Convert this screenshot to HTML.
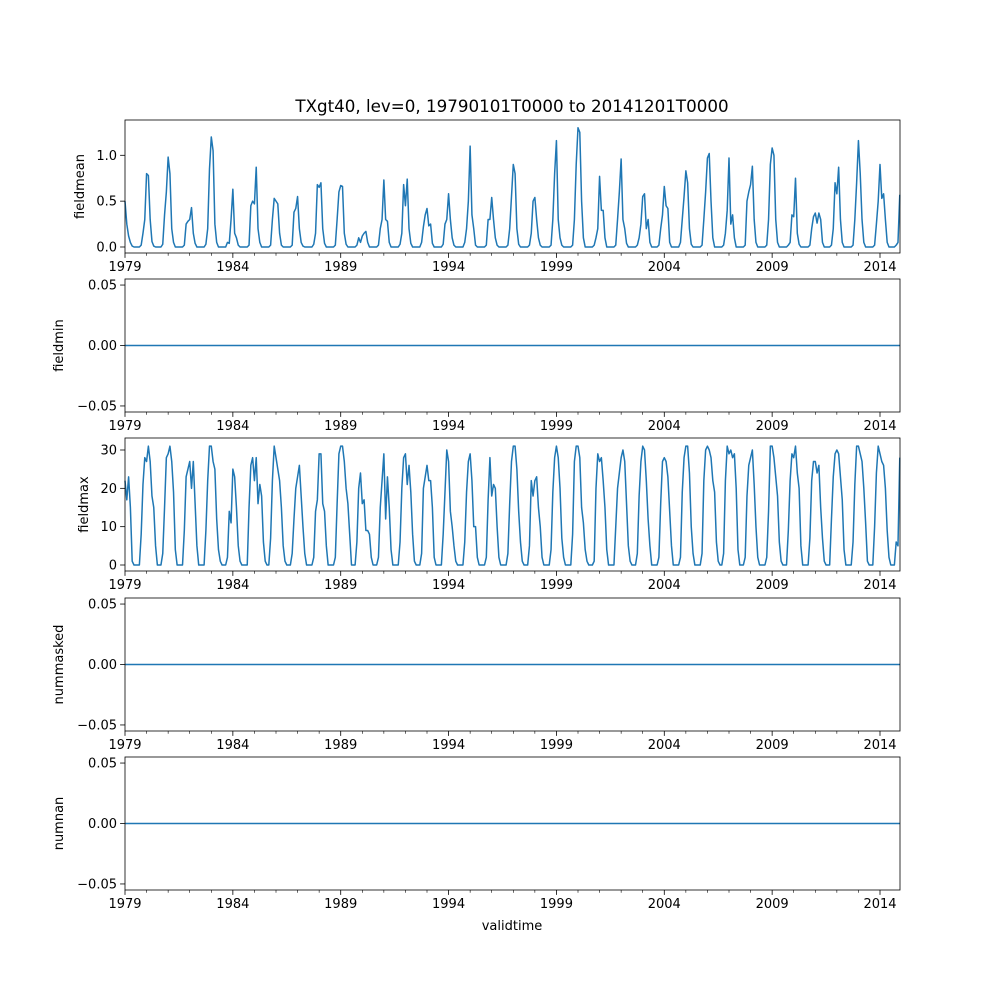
<!DOCTYPE html>
<html><head><meta charset="utf-8"><style>
html,body{margin:0;padding:0;background:#fff}
svg{display:block;font-family:"DejaVu Sans","Liberation Sans",sans-serif}
</style></head><body>
<svg id="fig" width="1000" height="1000" viewBox="0 0 1000 1000">
<rect width="1000" height="1000" fill="#fff"/>
<text x="512" y="112" font-size="16.7" text-anchor="middle">TXgt40, lev=0, 19790101T0000 to 20141201T0000</text>
<text x="512" y="930" font-size="13" text-anchor="middle">validtime</text>
</svg>
<script>
const startYear = 1979;
const fieldmean = [
.5,.25,.12,.05,.01,0,0,0,0,.02,.15,.3,
.8,.78,.3,.06,.01,0,0,0,0,.03,.35,.6,
.98,.8,.2,.05,0,0,0,0,0,.02,.25,.28,
.3,.43,.15,.04,0,0,0,0,0,.03,.2,.85,
1.2,1.05,.25,.05,0,0,0,0,0,.05,.04,.3,
.63,.15,.1,.02,0,0,0,0,0,.02,.45,.5,
.47,.87,.2,.05,0,0,0,0,0,.02,.3,.53,
.5,.47,.15,.02,0,0,0,0,0,.02,.38,.42,
.55,.2,.05,.01,0,0,0,0,0,.03,.15,.68,
.65,.7,.2,.04,0,0,0,0,0,.02,.3,.6,
.67,.66,.15,.03,0,0,0,0,0,.02,.1,.05,
.12,.15,.17,.05,0,0,0,0,0,.02,.2,.3,
.73,.3,.28,.05,0,0,0,0,0,.03,.15,.68,
.45,.74,.2,.04,0,0,0,0,0,.05,.22,.35,
.42,.23,.25,.04,0,0,0,0,0,.03,.25,.3,
.58,.3,.1,.02,0,0,0,0,0,.05,.2,.5,
1.1,.35,.2,.02,0,0,0,0,0,.02,.3,.3,
.54,.3,.1,.02,0,0,0,0,0,.02,.2,.55,
.9,.8,.2,.03,0,0,0,0,0,.02,.15,.5,
.54,.3,.1,.02,0,0,0,0,0,.02,.3,.8,
1.16,.3,.1,.02,0,0,0,0,0,.02,.3,.9,
1.3,1.25,.5,.1,0,0,0,0,0,.02,.1,.2,
.77,.4,.4,.1,0,0,0,0,0,.02,.3,.6,
.96,.3,.2,.04,0,0,0,0,0,.02,.1,.25,
.55,.58,.2,.3,.05,0,0,0,0,.02,.2,.35,
.66,.45,.42,.05,0,0,0,0,0,.05,.3,.55,
.83,.7,.2,.03,0,0,0,0,0,.02,.3,.6,
.97,1.02,.5,.1,0,0,0,0,0,.02,.15,.4,
.97,.25,.35,.1,0,0,0,0,0,.02,.5,.6,
.68,.88,.3,.05,0,0,0,0,0,.02,.3,.9,
1.08,1.0,.3,.05,0,0,0,0,0,.02,.05,.35,
.33,.75,.15,.03,0,0,0,0,0,.02,.2,.33,
.37,.26,.37,.3,.05,0,0,0,0,.02,.2,.7,
.58,.87,.3,.05,0,0,0,0,0,.02,.3,.7,
1.16,.8,.3,.05,0,0,0,0,0,.02,.25,.5,
.9,.53,.58,.3,.05,0,0,0,0,.02,.05,.57];
const fieldmax = [
22,17,23,15,1,0,0,0,0,8,21,28,
27,31,27,18,15,5,0,0,0,3,15,28,
29,31,27,19,4,0,0,0,0,9,23,25,
27,20,27,16,5,0,0,0,0,9,22,31,
31,27,25,12,4,1,0,0,0,2,14,11,
25,23,15,5,1,0,0,0,0,15,26,28,
22,28,16,21,18,6,1,0,0,7,22,31,
28,25,22,15,5,1,0,0,0,3,12,20,
23,26,18,10,3,0,0,0,0,2,14,17,
29,29,16,14,5,0,0,0,0,2,16,29,
31,31,27,20,16,8,0,0,0,6,20,24,
16,17,9,9,8,2,0,0,0,2,15,22,
29,12,23,15,4,0,0,0,0,6,20,28,
29,21,26,19,8,1,0,0,0,3,20,23,
26,22,22,15,2,0,0,0,0,8,19,30,
27,14,10,5,1,0,0,0,0,6,19,27,
29,22,10,10,2,0,0,0,0,2,17,28,
18,21,20,10,2,0,0,0,0,3,16,27,
31,31,25,14,6,1,0,0,0,5,22,18,
22,23,15,10,2,0,0,0,0,4,19,28,
31,28,20,7,2,0,0,0,0,8,27,31,
31,28,15,11,4,1,0,0,0,1,20,29,
27,28,22,15,4,0,0,0,0,10,20,24,
28,30,27,16,5,1,0,0,0,3,18,27,
31,30,22,12,5,0,0,0,0,2,16,27,
28,27,23,14,5,0,0,0,0,2,19,28,
31,31,24,10,3,0,0,0,0,3,22,30,
31,30,28,22,19,6,1,0,0,3,22,31,
29,30,28,29,20,4,0,0,0,2,18,26,
28,30,21,10,2,0,0,0,0,2,14,31,
31,28,23,18,6,1,0,0,0,9,22,29,
28,31,24,20,5,0,0,0,0,7,22,27,
27,24,26,15,7,1,0,0,0,12,23,29,
30,29,23,17,4,0,0,0,0,6,21,31,
31,29,27,20,11,1,0,0,0,10,24,31,
29,27,26,20,9,2,0,0,0,6,5,28];
const xTickLabels = ["1979","1984","1989","1994","1999","2004","2009","2014"];
const meanTicks = ["0.0","0.5","1.0"];
const maxTicks = ["0","10","20","30"];
const zeroTicks = ["\u22120.05","0.00","0.05"];

const NS = "http://www.w3.org/2000/svg";
const svg = document.getElementById('fig');
const X0 = 125, X1 = 900, PER_YEAR = (880 - 125) / 35;
function xScale(t){ return X0 + (t - startYear) * PER_YEAR; }
function mk(tag, attrs, parent){
  const e = document.createElementNS(NS, tag);
  for (const k in attrs) e.setAttribute(k, attrs[k]);
  (parent || svg).appendChild(e); return e;
}
const panels = [
  {name:'fieldmean', top:120, bot:253, ymin:-0.0655, ymax:1.385, ticks:meanTicks, vals:[0,0.5,1], data:fieldmean, lx:84},
  {name:'fieldmin', top:279, bot:412, ymin:-0.055, ymax:0.055, ticks:zeroTicks, vals:[-0.05,0,0.05], data:null, lx:63},
  {name:'fieldmax', top:438, bot:571, ymin:-1.565, ymax:33.13, ticks:maxTicks, vals:[0,10,20,30], data:fieldmax, lx:88},
  {name:'nummasked', top:598, bot:731, ymin:-0.055, ymax:0.055, ticks:zeroTicks, vals:[-0.05,0,0.05], data:null, lx:63},
  {name:'numnan', top:757, bot:890, ymin:-0.055, ymax:0.055, ticks:zeroTicks, vals:[-0.05,0,0.05], data:null, lx:63}
];
panels.forEach(p => {
  const g = mk('g', {});
  
  
  const yScale = v => p.bot - (v - p.ymin) / (p.ymax - p.ymin) * (p.bot - p.top);
  let pts;
  if (p.data) {
    pts = p.data.map((v, i) => xScale(startYear + i / 12).toFixed(2) + ',' + yScale(v).toFixed(2));
  } else {
    pts = [X0 + ',' + yScale(0), X1 + ',' + yScale(0)];
  }
  const line = mk('polyline', {points: pts.join(' '), fill:'none', stroke:'#1f77b4', 'stroke-width':1.5, 'stroke-linejoin':'round'}, g);
  
  
  const frame = mk('rect', {x:X0, y:p.top, width:X1 - X0, height:p.bot - p.top, fill:'none', stroke:'#000', 'stroke-width':0.8}, g);
  
  
  for (let y = startYear; y <= 2014; y++) {
    const x = xScale(y), major = (y - startYear) % 5 === 0;
    mk('line', {x1:x, x2:x, y1:p.bot, y2:p.bot + (major ? 4.9 : 2.8), stroke:'#000', 'stroke-width':major ? 0.8 : 0.6}, g);
  }
  xTickLabels.forEach((lab, i) => {
    const t = mk('text', {x:xScale(+lab), y:p.bot + 18, 'font-size':13, 'text-anchor':'middle'}, g);
    t.textContent = lab;
    
    
  });
  p.ticks.forEach((lab, i) => {
    const y = yScale(p.vals[i]);
    mk('line', {x1:X0 - 4.9, x2:X0, y1:y, y2:y, stroke:'#000', 'stroke-width':0.8}, g);
    const t = mk('text', {x:X0 - 8, y:y + 4.5, 'font-size':13, 'text-anchor':'end'}, g);
    t.textContent = lab;
    
    
  });
  const cy = (p.top + p.bot) / 2;
  const yl = mk('text', {x:p.lx, y:cy, 'font-size':13, 'text-anchor':'middle', transform:'rotate(-90 ' + p.lx + ' ' + cy + ')'}, g);
  yl.textContent = p.name;
  
  
});
</script>
</body></html>
